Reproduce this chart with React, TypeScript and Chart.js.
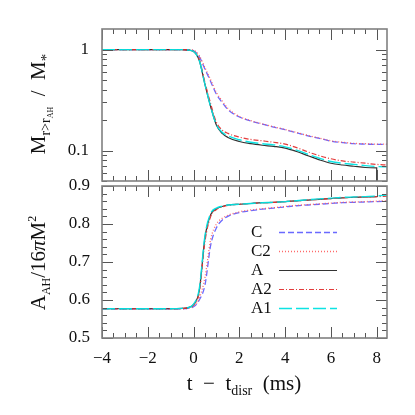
import React, { useEffect, useRef } from "react";
import { Chart, registerables } from "chart.js";
Chart.register(...registerables);

// ---------------- data ----------------
const T = [-4, -1, -0.5, -0.25, 0, 0.25, 0.5, 0.75, 1, 1.25, 1.5, 2, 2.5, 3, 3.5, 4, 4.5, 5, 5.5, 6, 6.5, 7, 7.5, 8, 8.45];
const T_A = [-4, -1, -0.5, -0.25, 0, 0.25, 0.5, 0.75, 1, 1.25, 1.5, 2, 2.5, 3, 3.5, 4, 4.5, 5, 5.5, 6, 6.5, 7, 7.5, 8, 8];

// top panel: M(r > r_AH) / M*
const massC = [1, 1, 1, 0.995, 0.975, 0.85, 0.64, 0.48, 0.36, 0.3, 0.255, 0.215, 0.196, 0.183, 0.171, 0.161, 0.15, 0.14, 0.132, 0.124, 0.12, 0.117, 0.116, 0.115, 0.115];
const massC2 = [1, 1, 1, 0.997, 0.985, 0.87, 0.66, 0.5, 0.375, 0.31, 0.262, 0.218, 0.198, 0.184, 0.172, 0.162, 0.151, 0.141, 0.133, 0.125, 0.121, 0.118, 0.117, 0.116, 0.116];
const massA = [1, 1, 1, 0.99, 0.96, 0.78, 0.45, 0.27, 0.178, 0.148, 0.135, 0.123, 0.117, 0.113, 0.11, 0.106, 0.098, 0.089, 0.081, 0.075, 0.072, 0.07, 0.068, 0.0675, 0.03];
const massA2 = [1, 1, 1, 0.99, 0.965, 0.8, 0.47, 0.29, 0.19, 0.16, 0.148, 0.136, 0.129, 0.125, 0.121, 0.116, 0.107, 0.097, 0.089, 0.083, 0.079, 0.077, 0.075, 0.073, 0.072];
const massA1 = [1, 1, 1, 0.99, 0.96, 0.78, 0.45, 0.27, 0.18, 0.152, 0.14, 0.128, 0.121, 0.117, 0.114, 0.109, 0.101, 0.092, 0.084, 0.078, 0.075, 0.073, 0.071, 0.0695, 0.069];

// bottom panel: A_AH / 16 pi M^2
const areaC = [0.577, 0.577, 0.577, 0.578, 0.582, 0.6, 0.64, 0.745, 0.79, 0.81, 0.82, 0.83, 0.835, 0.839, 0.842, 0.845, 0.848, 0.85, 0.852, 0.854, 0.856, 0.857, 0.858, 0.859, 0.86];
const areaC2 = [0.577, 0.577, 0.577, 0.578, 0.584, 0.605, 0.66, 0.76, 0.8, 0.815, 0.823, 0.832, 0.837, 0.84, 0.843, 0.846, 0.849, 0.851, 0.853, 0.855, 0.857, 0.858, 0.859, 0.86, 0.861];
const areaA = [0.577, 0.577, 0.578, 0.58, 0.588, 0.625, 0.765, 0.825, 0.84, 0.846, 0.85, 0.852, 0.854, 0.856, 0.857, 0.859, 0.861, 0.863, 0.865, 0.867, 0.869, 0.87, 0.871, 0.872, null];
const areaA2 = [0.577, 0.577, 0.578, 0.58, 0.587, 0.62, 0.755, 0.82, 0.838, 0.845, 0.849, 0.852, 0.854, 0.856, 0.857, 0.859, 0.861, 0.863, 0.865, 0.867, 0.869, 0.87, 0.871, 0.872, 0.873];
const areaA1 = [0.577, 0.577, 0.578, 0.58, 0.589, 0.63, 0.77, 0.828, 0.842, 0.847, 0.85, 0.852, 0.854, 0.856, 0.857, 0.859, 0.861, 0.864, 0.866, 0.868, 0.87, 0.871, 0.872, 0.874, 0.876];

const labels = ["C", "C2", "A", "A2", "A1"];
const xTicks = [-4, -2, 0, 2, 4, 6, 8];
const topYTicks = [0.1, 1];
const botYTicks = [0.5, 0.6, 0.7, 0.8, 0.9];

// ---------------- styles ----------------
const FONT = '"Liberation Serif", "DejaVu Serif", serif';
const STYLES = [
  { color: "rgba(90,90,255,0.9)", dash: [6, 3], width: 1.3 },
  { color: "rgba(255,90,90,0.9)", dash: [1, 2], width: 1.3 },
  { color: "#333333", dash: [], width: 1.2 },
  { color: "rgba(225,50,50,0.95)", dash: [5, 2, 1, 2], width: 1.2 },
  { color: "rgba(0,225,225,0.95)", dash: [13, 4], width: 1.4 },
];

const X_MIN = -4, X_MAX = 8.45;

function mk(xs: number[], ys: (number | null)[]) {
  return xs.map((x, i) => ({ x, y: ys[i] }));
}

type Seg = { t: string; size: number; dy: number; italic?: boolean };

function drawSegs(ctx: CanvasRenderingContext2D, segs: Seg[], cx: number, cy: number, rot: boolean) {
  ctx.save();
  ctx.fillStyle = "#111";
  ctx.textBaseline = "alphabetic";
  ctx.textAlign = "left";
  let total = 0;
  for (const s of segs) {
    ctx.font = `${s.italic ? "italic " : ""}${s.size}px ${FONT}`;
    total += ctx.measureText(s.t).width;
  }
  ctx.translate(cx, cy);
  if (rot) ctx.rotate(-Math.PI / 2);
  let x = -total / 2;
  for (const s of segs) {
    ctx.font = `${s.italic ? "italic " : ""}${s.size}px ${FONT}`;
    ctx.fillText(s.t, x, s.dy);
    x += ctx.measureText(s.t).width;
  }
  ctx.restore();
}

function frameTicks(chart: any, yMajor: number[], yMinor: number[]) {
  const { ctx, chartArea: a } = chart;
  const xs = chart.scales.x, ys = chart.scales.y;
  ctx.save();
  ctx.strokeStyle = "#555";
  ctx.lineWidth = 1;
  const line = (x1: number, y1: number, x2: number, y2: number) => {
    ctx.beginPath();
    ctx.moveTo(x1, y1);
    ctx.lineTo(x2, y2);
    ctx.stroke();
  };
  for (let v = -4; v <= X_MAX + 1e-9; v += 0.5) {
    const px = Math.round(xs.getPixelForValue(v)) + 0.5;
    const major = Math.abs(v / 2 - Math.round(v / 2)) < 1e-9;
    const L = major ? 11 : 5;
    line(px, a.top, px, a.top + L);
    line(px, a.bottom, px, a.bottom - L);
  }
  const yt = (v: number, L: number) => {
    const py = Math.round(ys.getPixelForValue(v)) + 0.5;
    line(a.left, py, a.left + L, py);
    line(a.right, py, a.right - L, py);
  };
  yMajor.forEach((v) => yt(v, 11));
  yMinor.forEach((v) => yt(v, 5));
  ctx.strokeStyle = "#808080";
  ctx.lineWidth = 1.6;
  ctx.strokeRect(a.left, a.top, a.right - a.left, a.bottom - a.top);
  ctx.restore();
}

const topMinor = [0.05, 0.06, 0.07, 0.08, 0.09, 0.2, 0.3, 0.4, 0.5, 0.6, 0.7, 0.8, 0.9];
const botMinor: number[] = [];
for (let i = 0; i <= 20; i++) {
  const v = 0.5 + i * 0.02;
  if (i % 5 !== 0) botMinor.push(v);
}

function datasets(xsList: number[][], ysList: (number | null)[][]) {
  return ysList.map((ys, i) => ({
    label: labels[i],
    data: mk(xsList[i], ys),
    borderColor: STYLES[i].color,
    borderDash: STYLES[i].dash,
    borderWidth: STYLES[i].width,
    pointRadius: 0,
    fill: false,
    tension: 0,
    cubicInterpolationMode: "monotone" as const,
    order: 5 - i,
  }));
}

export default function App() {
  const topRef = useRef<HTMLCanvasElement>(null);
  const botRef = useRef<HTMLCanvasElement>(null);

  useEffect(() => {
    document.body.style.margin = "0";
    const tickFont = { family: FONT, size: 17 };

    const topChart = new Chart(topRef.current!, {
      type: "line",
      data: {
        datasets: datasets([T, T, T_A, T, T], [massC, massC2, massA, massA2, massA1]) as any,
      },
      options: {
        animation: false,
        responsive: false,
        devicePixelRatio: 1,
        events: [],
        layout: { padding: { left: 0, top: 29, right: 28, bottom: 234 } },
        plugins: { legend: { display: false }, tooltip: { enabled: false } },
        scales: {
          x: { type: "linear", min: X_MIN, max: X_MAX, display: false },
          y: {
            type: "logarithmic",
            min: 0.05,
            max: 1.6,
            grid: { display: false, drawTicks: false },
            border: { display: false },
            afterBuildTicks: (s: any) => {
              s.ticks = topYTicks.map((v) => ({ value: v }));
            },
            afterFit: (s: any) => {
              s.width = 102;
            },
            ticks: {
              padding: 13,
              color: "#111",
              font: tickFont,
              callback: (v: any) => String(v),
            },
          },
        },
      },
      plugins: [
        {
          id: "topdeco",
          afterDatasetsDraw(chart: any) {
            frameTicks(chart, topYTicks, topMinor);
            drawSegs(
              chart.ctx,
              [
                { t: "M", size: 21, dy: 0 },
                { t: "r>r", size: 14, dy: 5 },
                { t: "AH", size: 8, dy: 8 },
                { t: "  /  ", size: 21, dy: 0 },
                { t: "M", size: 21, dy: 0 },
                { t: "*", size: 15, dy: 6 },
              ],
              45,
              104,
              true
            );
          },
        },
      ],
    });

    const botChart = new Chart(botRef.current!, {
      type: "line",
      data: {
        datasets: datasets([T, T, T, T, T], [areaC, areaC2, areaA, areaA2, areaA1]) as any,
      },
      options: {
        animation: false,
        responsive: false,
        devicePixelRatio: 1,
        events: [],
        layout: { padding: { left: 0, top: 186, right: 28, bottom: 47 } },
        plugins: { legend: { display: false }, tooltip: { enabled: false } },
        scales: {
          x: {
            type: "linear",
            min: X_MIN,
            max: X_MAX,
            grid: { display: false, drawTicks: false },
            border: { display: false },
            afterBuildTicks: (s: any) => {
              s.ticks = xTicks.map((v) => ({ value: v }));
            },
            afterFit: (s: any) => {
              s.height = 30;
            },
            ticks: {
              padding: 10,
              color: "#111",
              font: tickFont,
              maxRotation: 0,
              callback: (v: any) => (v < 0 ? "\u2212" + Math.abs(v) : String(v)),
            },
          },
          y: {
            type: "linear",
            min: 0.5,
            max: 0.9,
            grid: { display: false, drawTicks: false },
            border: { display: false },
            afterBuildTicks: (s: any) => {
              s.ticks = botYTicks.map((v) => ({ value: v }));
            },
            afterFit: (s: any) => {
              s.width = 102;
            },
            ticks: {
              padding: 12,
              color: "#111",
              font: tickFont,
              callback: (v: any) => Number(v).toFixed(1),
            },
          },
        },
      },
      plugins: [
        {
          id: "botdeco",
          afterDatasetsDraw(chart: any) {
            frameTicks(chart, botYTicks, botMinor);
            const ctx = chart.ctx as CanvasRenderingContext2D;
            // legend
            labels.forEach((lab, i) => {
              const cy = 232 + i * 19;
              ctx.save();
              ctx.fillStyle = "#111";
              ctx.font = `17px ${FONT}`;
              ctx.textBaseline = "middle";
              ctx.textAlign = "left";
              ctx.fillText(lab, 251, cy + 1);
              ctx.strokeStyle = STYLES[i].color;
              ctx.lineWidth = STYLES[i].width;
              ctx.setLineDash(STYLES[i].dash);
              ctx.beginPath();
              ctx.moveTo(279, cy + 0.5);
              ctx.lineTo(337, cy + 0.5);
              ctx.stroke();
              ctx.restore();
            });
            drawSegs(
              ctx,
              [
                { t: "A", size: 21, dy: 0 },
                { t: "AH", size: 12, dy: 5 },
                { t: "/16", size: 21, dy: 0 },
                { t: "\u03c0", size: 21, dy: 0, italic: true },
                { t: "M", size: 21, dy: 0 },
                { t: "2", size: 12, dy: -9 },
              ],
              45,
              263,
              true
            );
            drawSegs(
              ctx,
              [
                { t: "t  \u2212  t", size: 21, dy: 0 },
                { t: "disr", size: 14, dy: 5 },
                { t: "  (ms)", size: 21, dy: 0 },
              ],
              244,
              390,
              false
            );
          },
        },
      ],
    });

    return () => {
      topChart.destroy();
      botChart.destroy();
    };
  }, []);

  const cs: React.CSSProperties = { position: "absolute", left: 0, top: 0, width: 415, height: 415 };
  return (
    <div style={{ position: "relative", width: 415, height: 415, background: "#fff" }}>
      <canvas ref={topRef} width={415} height={415} style={cs} />
      <canvas ref={botRef} width={415} height={415} style={cs} />
    </div>
  );
}
